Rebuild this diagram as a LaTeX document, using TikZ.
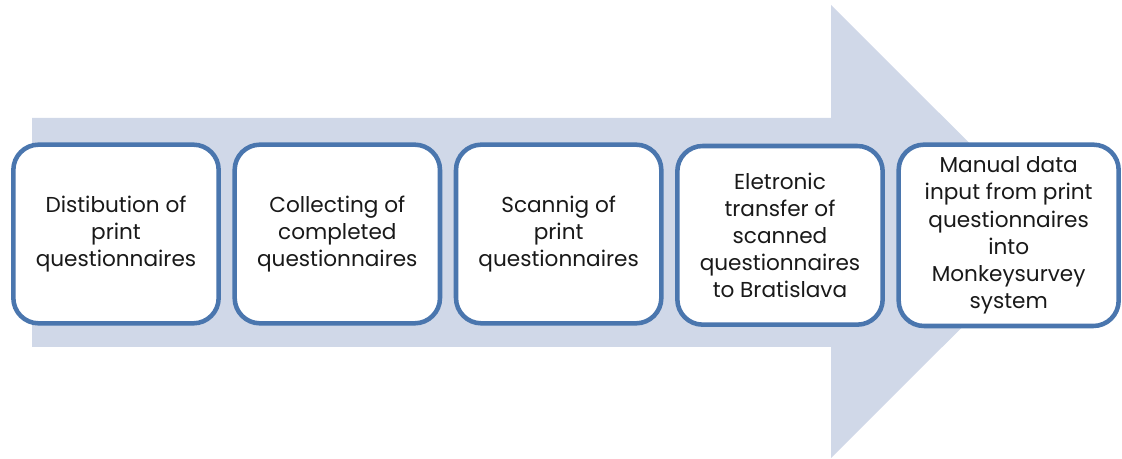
\documentclass[tikz,border=0pt]{standalone}
\usepackage{fontspec}
\setmainfont{Poppins}
\usetikzlibrary{positioning}
\definecolor{flowfill}{HTML}{D0D8E8}
\definecolor{flowline}{HTML}{4A76AE}
\tikzset{stepbox/.style={draw=flowline, line width=3.4pt, fill=white,
rounded corners=19pt, align=center, minimum width=154pt, minimum height=134pt,
font=\fontsize{16.2}{20.3}\selectfont, text=black!90}}

\begin{document}
\begin{tikzpicture}[x=0.75pt, y=-0.75pt, node distance=8.6pt]
	\useasboundingbox (0,0) rectangle (1122,459);
	% big background arrow
	\fill[flowfill] (32,118) -- (831,118) -- (831,5) -- (1058,231.5)
		-- (831,458) -- (831,347) -- (32,347) -- cycle;
	\node[stepbox] (dist) at (116,234) {Distibution of\\print\\questionnaires};
	\node[stepbox, right=of dist] (coll) {Collecting of\\completed\\questionnaires};
	\node[stepbox, right=of coll] (scan) {Scannig of\\print\\questionnaires};
	\node[stepbox, right=of scan, yshift=-1pt] (trans) {Eletronic\\transfer of\\scanned\\questionnaires\\to Bratislava};
	\node[stepbox, right=of trans, minimum width=165pt, minimum height=136pt] (input) {Manual data\\input from print\\questionnaires\\into\\Monkeysurvey\\system};
\end{tikzpicture}
\end{document}
